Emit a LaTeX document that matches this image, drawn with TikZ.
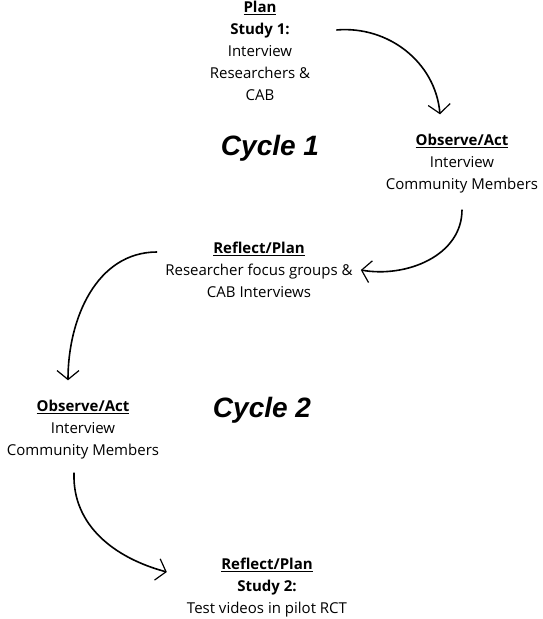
\documentclass[tikz,border=0pt]{standalone}
\usepackage{fontspec}
\setmainfont{Open Sans}
\newfontfamily\cyclefont{Liberation Sans}
\usetikzlibrary{arrows.meta,positioning}

\begin{document}
\begin{tikzpicture}[x=1pt,y=1pt,
    step text/.style={align=center,inner sep=0pt,
      font=\fontsize{15}{22}\selectfont},
    cycle text/.style={inner sep=0pt,
      font=\cyclefont\fontsize{28}{30}\selectfont\bfseries\itshape},
    cyc arrow/.style={draw,line width=1.6pt,
      -{Straight Barb[length=9pt,width=22pt,line width=1.2pt]}}]
  \useasboundingbox (0,0) rectangle (542,619);

  % steps of the two cycles
  \node[step text] (plan1) at (260,568)
    {\underline{\textbf{Plan}}\\ \textbf{Study 1:}\\ Interview\\ Researchers \&\\ CAB};
  \node[step text] (obs1) at (462,455)
    {\underline{\textbf{Observe/Act}}\\ Interview\\ Community Members};
  \node[step text] (ref1) at (259,349)
    {\underline{\textbf{Reflect/Plan}}\\ Researcher focus groups \&\\ CAB Interviews};
  \node[step text] (obs2) at (83,189)
    {\underline{\textbf{Observe/Act}}\\ Interview\\ Community Members};
  \node[step text] (ref2) at (267,31)
    {\underline{\textbf{Reflect/Plan}}\\ \textbf{Study 2:}\\ Test videos in pilot RCT};

  \node[cycle text] (cyc1) at (270,471) {Cycle 1};
  \node[cycle text] (cyc2) at (262,209) {Cycle 2};

  % arrows
  \draw[cyc arrow] ([shift={(26,21)}]plan1.east) to[out=5,in=95]
    ([shift={(-22,20)}]obs1.north);
  \draw[cyc arrow] ([shift={(0,-16)}]obs1.south) to[out=-90,in=-10]
    ([shift={(8,0)}]ref1.east);
  \draw[cyc arrow] ([shift={(-8,18)}]ref1.west) to[out=180,in=90]
    ([shift={(-15,20)}]obs2.north);
  \draw[cyc arrow] ([shift={(-9,-13)}]obs2.south) to[out=-92,in=165]
    ([shift={(-20,16)}]ref2.west);
\end{tikzpicture}
\end{document}
